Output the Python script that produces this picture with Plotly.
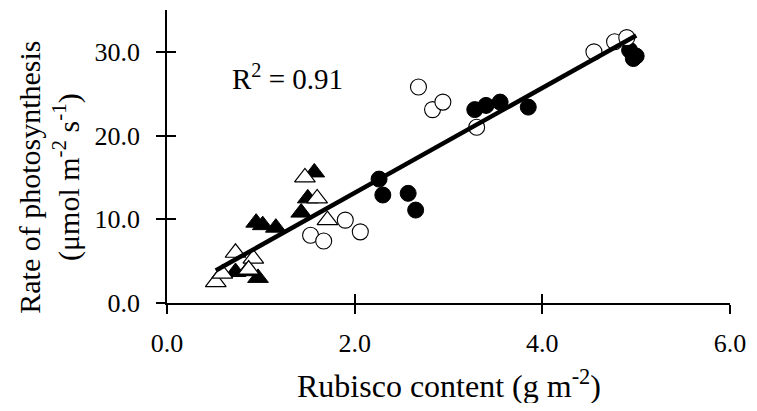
import numpy as np
import plotly.graph_objects as go

# open circles
oc_x = [4.55, 4.77, 4.90, 2.68, 2.83, 2.94, 3.30, 1.90, 2.06, 1.53, 1.67]
oc_y = [30.0, 31.2, 31.7, 25.8, 23.1, 24.0, 21.0, 9.9, 8.5, 8.1, 7.4]
# filled circles
fc_x = [4.93, 5.00, 4.97, 3.28, 3.40, 3.55, 3.85, 2.26, 2.30, 2.57, 2.65]
fc_y = [30.2, 29.5, 29.2, 23.1, 23.6, 24.0, 23.4, 14.8, 12.9, 13.1, 11.1]
# filled triangles
ft_x = [1.57, 1.50, 1.43, 0.95, 1.02, 1.16, 0.73, 0.85, 0.97]
ft_y = [15.6, 12.5, 10.8, 9.6, 9.3, 9.0, 3.7, 3.8, 3.0]
# open triangles
ot_x = [1.47, 1.60, 1.71, 0.73, 0.92, 0.52, 0.59, 0.87]
ot_y = [15.0, 12.5, 9.9, 6.0, 5.3, 2.5, 3.5, 4.0]

r2_text = "R<sup>2</sup> = 0.91"
x_title = "Rubisco content (g m<sup>-2</sup>)"
y_title = "Rate of photosynthesis<br>(μmol m<sup>-2</sup> s<sup>-1</sup>)"

FONT = "Liberation Serif"
TICK_SIZE = 26
R2_SIZE = 29
X_TITLE_SIZE = 32
Y_TITLE_SIZE = 30

all_x = np.array(oc_x + fc_x + ft_x + ot_x)
all_y = np.array(oc_y + fc_y + ft_y + ot_y)
slope, intercept = np.polyfit(all_x, all_y, 1)
line_x = np.array([all_x.min(), all_x.max()])
line_y = slope * line_x + intercept

fig = go.Figure()
fig.add_trace(go.Scatter(x=ft_x, y=ft_y, mode="markers",
                         marker=dict(symbol="triangle-up", size=18, color="black",
                                     line=dict(color="black", width=1))))
fig.add_trace(go.Scatter(x=ot_x, y=ot_y, mode="markers",
                         marker=dict(symbol="triangle-up", size=18, color="white",
                                     line=dict(color="black", width=1.2))))
fig.add_trace(go.Scatter(x=fc_x, y=fc_y, mode="markers",
                         marker=dict(symbol="circle", size=16, color="black",
                                     line=dict(color="black", width=1))))
fig.add_trace(go.Scatter(x=oc_x, y=oc_y, mode="markers",
                         marker=dict(symbol="circle", size=16, color="white",
                                     line=dict(color="black", width=1.1))))
fig.add_trace(go.Scatter(x=line_x, y=line_y, mode="lines",
                         line=dict(color="black", width=4.5)))
# helper trace for inward tick halves
fig.add_trace(go.Scatter(x=[None], y=[None], xaxis="x2", yaxis="y2", mode="markers",
                         hoverinfo="skip"))

axis_common = dict(showgrid=False, zeroline=False, showline=True, linecolor="black",
                   linewidth=1.5, ticks="outside", ticklen=9, tickwidth=1.5,
                   tickcolor="black", tickformat=".1f", ticklabeloverflow="allow",
                   tickfont=dict(family=FONT, size=TICK_SIZE, color="black"))

# the page body has an 8px default margin on every side, so the figure is
# sized to fit inside the 757x411 window without scrolling
fig.update_layout(
    width=741, height=395,
    margin=dict(l=159, r=19, t=2, b=100),
    paper_bgcolor="white", plot_bgcolor="white",
    showlegend=False,
    font=dict(family=FONT, color="black"),
    xaxis=dict(range=[0, 6], dtick=2, tick0=0, ticklabelstandoff=7,
               **axis_common),
    yaxis=dict(range=[0, 35], tickvals=[0, 10, 20, 30], ticklabelstandoff=11,
               **axis_common),
    xaxis2=dict(range=[0, 6], dtick=2, tick0=0, overlaying="x", side="bottom",
                showgrid=False, zeroline=False, showline=False, showticklabels=False,
                ticks="inside", ticklen=9, tickwidth=1.5, tickcolor="black"),
    yaxis2=dict(range=[0, 35], tickvals=[0, 10, 20, 30], overlaying="y", side="left",
                showgrid=False, zeroline=False, showline=False, showticklabels=False,
                ticks="inside", ticklen=9, tickwidth=1.5, tickcolor="black"),
    annotations=[
        dict(text=r2_text, x=1.28, y=27.0, xref="x", yref="y",
             showarrow=False, xanchor="center", yanchor="middle",
             font=dict(family=FONT, size=R2_SIZE, color="black")),
        dict(text=x_title, x=0.5, y=-0.275, xref="paper", yref="paper",
             showarrow=False, xanchor="center", yanchor="middle",
             font=dict(family=FONT, size=X_TITLE_SIZE, color="black")),
        dict(text=y_title, x=-0.21, y=0.43, xref="paper", yref="paper",
             showarrow=False, xanchor="center", yanchor="middle", textangle=-90,
             font=dict(family=FONT, size=Y_TITLE_SIZE, color="black")),
    ],
)

fig.write_html("out.html")
